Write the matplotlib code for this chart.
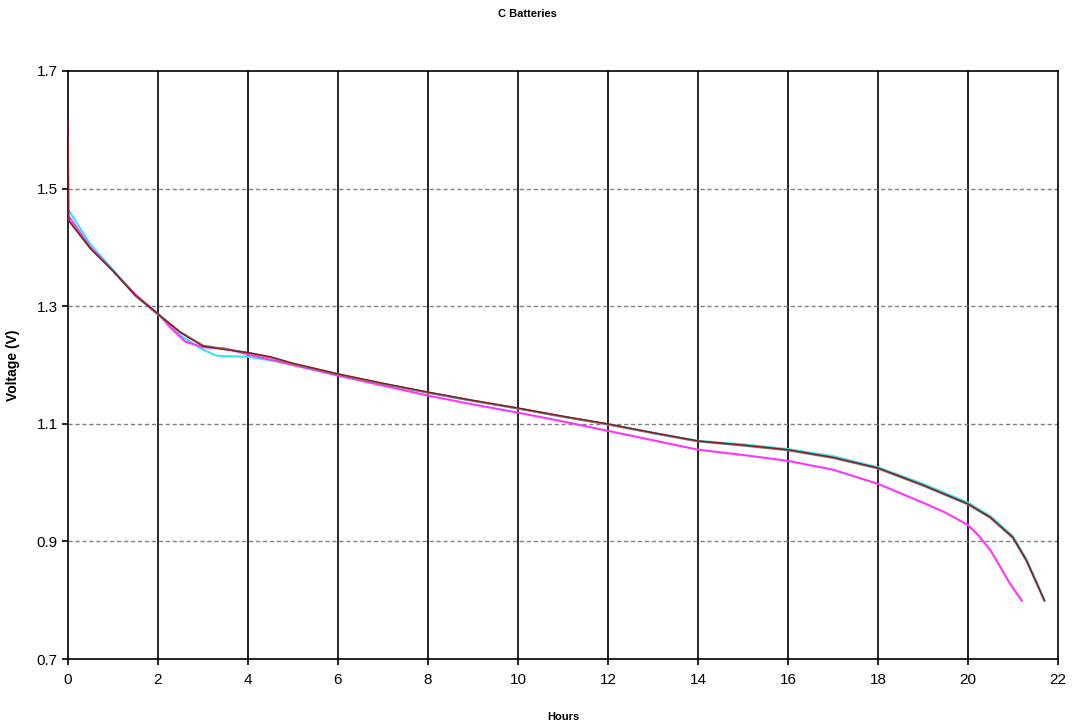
import matplotlib
matplotlib.use("Agg")
from matplotlib import pyplot as plt

plt.rcParams['font.family'] = ['Liberation Sans', 'DejaVu Sans']

# cell 1 (dark red)
hours_red = [0, 0.02, 0.5, 1, 1.5, 2, 2.5, 3, 3.5, 4, 4.5, 5, 6, 7, 8, 9, 10, 11, 12,
             13, 14, 15, 16, 17, 18, 19, 20, 20.5, 21, 21.3, 21.5, 21.7]
volts_red = [1.615, 1.445, 1.398, 1.360, 1.318, 1.287, 1.255, 1.232, 1.226, 1.221, 1.214,
             1.203, 1.185, 1.169, 1.154, 1.140, 1.127, 1.113, 1.100, 1.085, 1.071, 1.064,
             1.056, 1.043, 1.025, 0.996, 0.964, 0.941, 0.907, 0.868, 0.834, 0.800]

# cell 2 (gray)
hours_gray = [0, 0.5, 1, 1.5, 2, 2.5, 3, 3.5, 4, 4.5, 5, 6, 7, 8, 9, 10, 11, 12,
              13, 14, 15, 16, 17, 18, 19, 20, 20.5, 21, 21.3, 21.5, 21.7]
volts_gray = [1.448, 1.398, 1.360, 1.318, 1.286, 1.256, 1.233, 1.227, 1.221, 1.213,
              1.202, 1.184, 1.168, 1.153, 1.139, 1.126, 1.112, 1.099, 1.084, 1.070, 1.063,
              1.055, 1.042, 1.024, 0.995, 0.963, 0.940, 0.906, 0.867, 0.833, 0.799]

# cell 3 (cyan)
hours_cyan = [0, 0.5, 1, 1.5, 2, 2.5, 3, 3.3, 3.5, 4, 5, 6, 7, 8, 9, 10, 11, 12,
              13, 14, 15, 16, 17, 18, 19, 20, 20.5, 21, 21.3, 21.5, 21.7]
volts_cyan = [1.465, 1.405, 1.362, 1.318, 1.287, 1.250, 1.226, 1.216, 1.215, 1.214,
              1.202, 1.184, 1.168, 1.153, 1.139, 1.126, 1.112, 1.099, 1.085, 1.071, 1.065,
              1.057, 1.045, 1.026, 0.998, 0.966, 0.943, 0.909, 0.870, 0.836, 0.800]

# cell 4 (magenta)
hours_mag = [0, 0.5, 1, 1.5, 2, 2.3, 2.6, 3, 3.5, 4, 5, 6, 7, 8, 9, 10, 11, 12, 13,
             14, 15, 16, 17, 18, 19, 19.5, 20, 20.25, 20.5, 20.71, 20.93, 21.2]
volts_mag = [1.455, 1.400, 1.360, 1.320, 1.287, 1.262, 1.240, 1.230, 1.228, 1.218,
             1.200, 1.182, 1.165, 1.148, 1.133, 1.119, 1.104, 1.088, 1.072, 1.056, 1.047,
             1.037, 1.022, 0.998, 0.966, 0.949, 0.928, 0.909, 0.885, 0.858, 0.829, 0.799]

x_ticks = list(range(0, 23, 2))
y_ticks = [0.7, 0.9, 1.1, 1.3, 1.5, 1.7]


def main():
    fig = plt.figure(figsize=(10.74, 7.2), dpi=100)
    ax = fig.add_axes([0.0633, 0.0847, 0.9217, 0.8167])

    for x in x_ticks[1:-1]:
        ax.axvline(x, color='black', linewidth=1.2, zorder=1)
    for y in y_ticks[1:-1]:
        ax.axhline(y, color='#808080', linewidth=1.0, linestyle=(0, (3, 2)), zorder=1)

    ax.plot(hours_cyan, volts_cyan, color='#33e6ef', linewidth=1.5, zorder=3)
    ax.plot(hours_mag, volts_mag, color='#ff33ff', linewidth=1.5, zorder=3)
    ax.plot(hours_gray, volts_gray, color='#7a7a7a', linewidth=1.5, zorder=4)
    ax.plot(hours_red, volts_red, color='#8b1a1a', linewidth=1.0, zorder=5)

    ax.set_xlim(0, 22)
    ax.set_ylim(0.7, 1.7)
    ax.set_xticks(x_ticks)
    ax.set_yticks(y_ticks)
    ax.set_yticklabels([str(v) for v in y_ticks])
    ax.tick_params(axis='both', labelsize=11, length=4, width=1.2, direction='out')
    ax.tick_params(axis='x', pad=6)

    for s in ax.spines.values():
        s.set_linewidth(1.2)

    ax.set_xlabel('Hours', fontsize=8, fontweight='bold', labelpad=18)
    ax.set_ylabel('Voltage (V)', fontsize=10, fontweight='bold', labelpad=12)
    fig.text(0.491, 0.98, 'C Batteries', ha='center', va='center', fontsize=8, fontweight='bold')

    fig.savefig('out.png', dpi=100)


if __name__ == "__main__":
    main()
